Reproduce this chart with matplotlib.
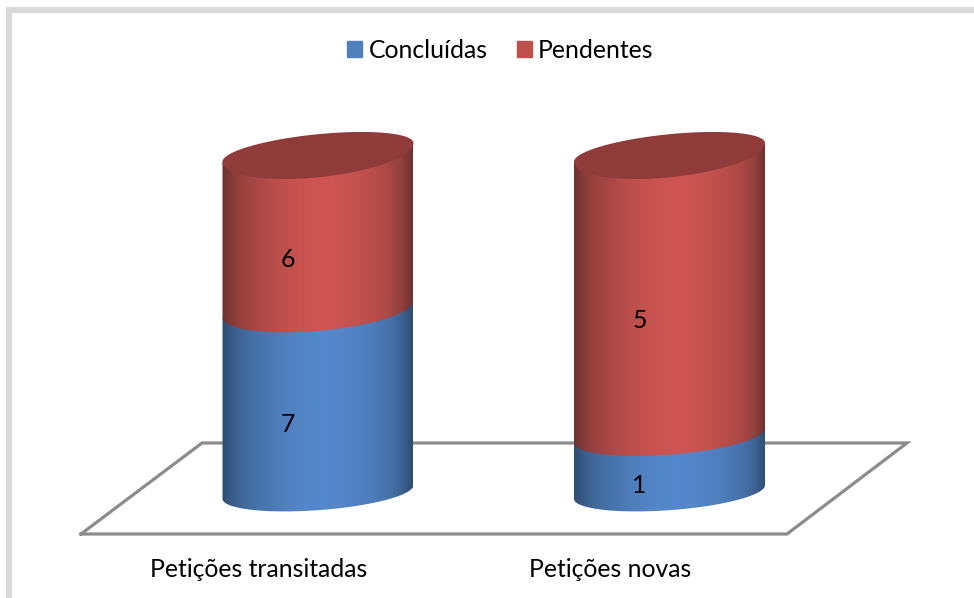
import numpy as np
import matplotlib
matplotlib.use("Agg")
import matplotlib.pyplot as plt
from matplotlib.colors import LinearSegmentedColormap
from matplotlib.patches import Patch, PathPatch, Rectangle
from matplotlib.path import Path

categories = ["Petições transitadas", "Petições novas"]
concluidas = [7, 1]
pendentes = [6, 5]
series_names = ["Concluídas", "Pendentes"]

plt.rcParams["font.family"] = ["Lato", "DejaVu Sans"]

W, H = 974, 598
fig = plt.figure(figsize=(W / 100, H / 100), dpi=100, facecolor="white")

# Pixel calibration of the pseudo-3D plot
AX_BOTTOM_PX = 534
ax = fig.add_axes([0, 1 - AX_BOTTOM_PX / H, 1, AX_BOTTOM_PX / H])
PX_X0, PX_STEP = 318.0, 351.5
PX_Y0, PX_Y1 = 492.0, 152.4
px_per_y = PX_Y0 - PX_Y1
XLIM = (-PX_X0 / PX_STEP, (W - PX_X0) / PX_STEP)
YLIM = ((PX_Y0 - AX_BOTTOM_PX) / px_per_y, PX_Y0 / px_per_y)
ax.set_xlim(*XLIM)
ax.set_ylim(*YLIM)
for s in ax.spines.values():
    s.set_visible(False)
ax.patch.set_alpha(0)

R = 95.5 / PX_STEP


def stops(dark, peak):
    dark, peak = np.array(dark), np.array(peak)
    m = [(0.0, 0.0), (0.04, 0.22), (0.10, 0.45), (0.20, 0.66), (0.30, 0.82), (0.42, 0.96),
         (0.52, 1.0), (0.62, 0.97), (0.72, 0.88), (0.80, 0.78), (0.88, 0.62), (0.94, 0.40), (1.0, 0.0)]
    return [(p, tuple((dark + (peak - dark) * v) / 255)) for p, v in m]


cmaps = [
    LinearSegmentedColormap.from_list("blue", stops((47, 76, 112), (85, 136, 204))),
    LinearSegmentedColormap.from_list("red", stops((108, 50, 48), (206, 85, 82))),
]
grad = np.linspace(0, 1, 256).reshape(1, -1)
TOP_COLOR = "#8f3b39"


def tilt(f):
    return (6.8 + 2.5 * f) / px_per_y


def front(i, f, t):
    b = (18.2 + 6.7 * f) / px_per_y
    return i + R * np.cos(t), f - b * np.sin(t) + tilt(f) * np.cos(t)


def back(i, f, t):
    b = 18.2 / px_per_y
    return i + R * np.cos(t), f + b * np.sin(t) + tilt(f) * np.cos(t)


# Floor
FLOOR_PX = np.array([(81, 534), (202, 443), (907, 443), (787, 534), (81, 534)], float)
ax.plot((FLOOR_PX[:, 0] - PX_X0) / PX_STEP, (PX_Y0 - FLOOR_PX[:, 1]) / px_per_y,
        color="#8c8c8c", lw=2.3, solid_joinstyle="miter", clip_on=False, zorder=1)

t = np.linspace(np.pi, 0, 200)
FS = 17.8
LABEL_DX = -30
for i, (c, p) in enumerate(zip(concluidas, pendentes)):
    total = c + p
    edges = [0, c / total, 1]
    for k, val in enumerate((c, p)):
        lo, hi = edges[k], edges[k + 1]
        x1, y1 = front(i, lo, t)
        xh, yh = front(i, hi, np.array([0.0, np.pi]))
        verts = np.vstack([np.c_[x1, y1], np.c_[xh, yh], [[x1[0], y1[0]]]])
        path = Path(verts, closed=False)
        im = ax.imshow(grad, cmap=cmaps[k], aspect="auto", interpolation="bilinear",
                       extent=(i - R, i + R, lo - 0.2, hi + 0.2), zorder=3 + k)
        clip = PathPatch(path, transform=ax.transData, fc="none", ec="none")
        ax.add_patch(clip)
        im.set_clip_path(clip)
        mid = (lo + hi) / 2
        ax.annotate(str(val), (i, mid), xytext=(LABEL_DX, -(21 + 10 * mid)),
                    textcoords="offset pixels", ha="center", va="center",
                    fontsize=FS, color="black", zorder=8)
    # top cap
    ta = np.linspace(0, np.pi, 150)
    xb, yb = back(i, 1, ta)
    xf, yf = front(i, 1, -ta + 2 * np.pi - np.pi + np.pi)
    xf, yf = front(i, 1, ta[::-1])
    ax.fill(np.r_[xb, xf], np.r_[yb, yf], color=TOP_COLOR, lw=0, zorder=6)

ax.set_xlim(*XLIM)
ax.set_ylim(*YLIM)
ax.set_yticks([])
ax.set_xticks(np.arange(len(categories)) - 59 / PX_STEP)
ax.set_xticklabels(categories, fontsize=FS, color="black")
ax.tick_params(axis="x", length=0, pad=17.5)

handles = [Patch(color="#4f81bd"), Patch(color="#c0504d")]
leg = fig.legend(handles, series_names, ncols=2, frameon=False, fontsize=FS,
                 loc="center", bbox_to_anchor=(500.5 / W, 1 - 50.5 / H),
                 handlelength=0.61, handleheight=0.61, handletextpad=0.25, columnspacing=1.18)

# Chart frame: only top and left edges are visible
fig.add_artist(Rectangle((6 / W, 1 - 13 / H), (W - 6) / W, 5.5 / H, transform=fig.transFigure,
                         fc="#d9d9d9", ec="none"))
fig.add_artist(Rectangle((6 / W, 0), 6 / W, 1 - 8 / H, transform=fig.transFigure,
                         fc="#d9d9d9", ec="none"))

fig.savefig("out.png", dpi=100)
